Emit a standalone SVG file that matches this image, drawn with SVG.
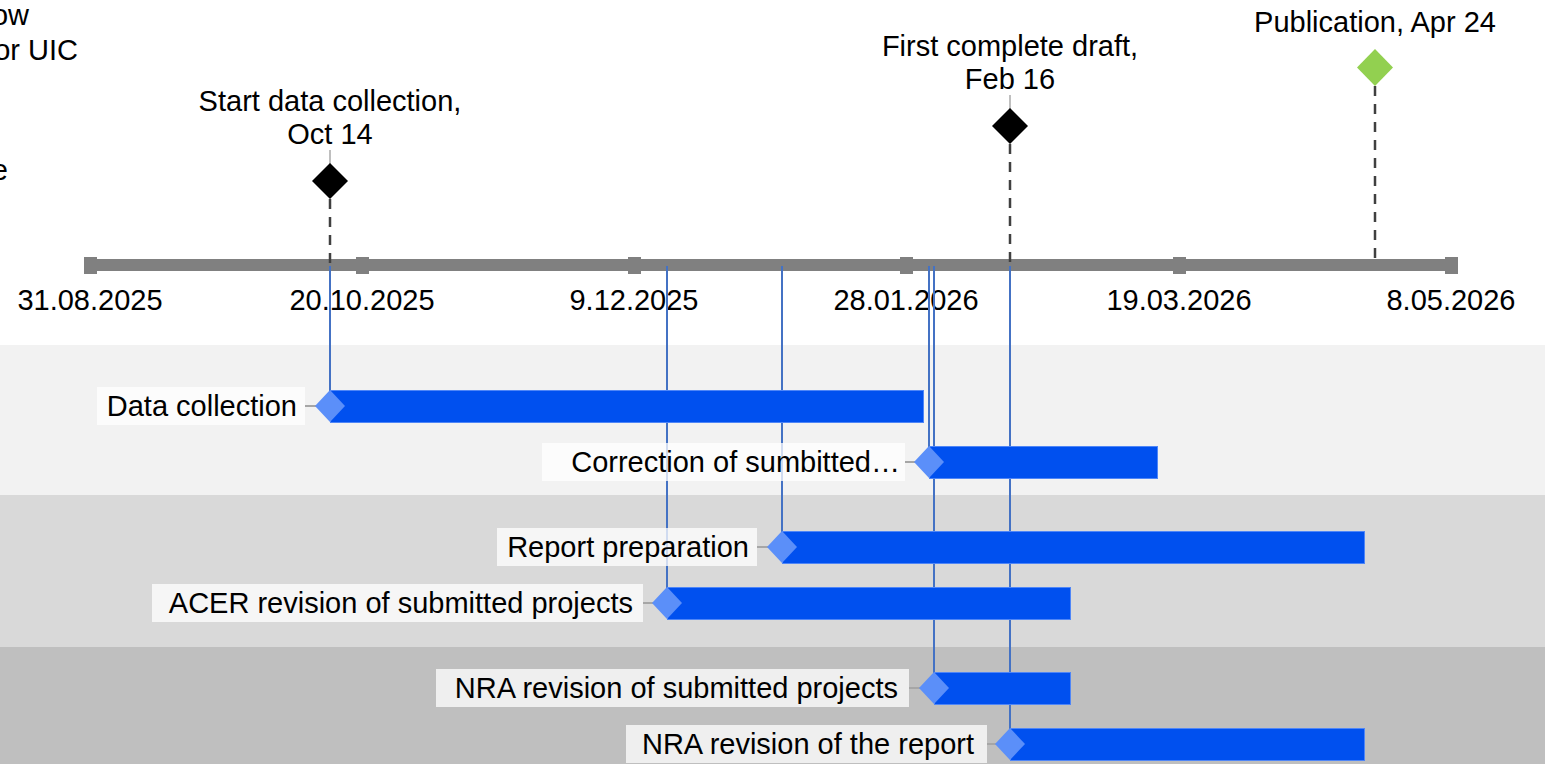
<svg xmlns="http://www.w3.org/2000/svg" width="1545" height="764" viewBox="0 0 1545 764">
<style>
text{font-family:"Liberation Sans",Arial,sans-serif;font-size:29px;fill:#000}
.ax{text-anchor:middle}
.lb{text-anchor:end}
.box{fill:#ffffff;fill-opacity:0.75}
.bar{fill:#0050ef;stroke:#4f86f7;stroke-width:1}
.dia{fill:#5b8ff9}
.con{stroke:#a6a6a6;stroke-width:2}
.vl{stroke:#4472c4;stroke-width:2;fill:none}
.dash{stroke:#404040;stroke-width:2.5;stroke-dasharray:10 8;fill:none}
.tick{fill:#808080}
</style>
<rect width="1545" height="764" fill="#ffffff"/>
<g id="bands">
<rect x="0" y="345" width="1545" height="150" fill="#f2f2f2"/>
<rect x="0" y="495" width="1545" height="152" fill="#d9d9d9"/>
<rect x="0" y="647" width="1545" height="117" fill="#bfbfbf"/>
</g>
<g id="legend-clipped">
<text x="29" y="25" class="lb">ow</text>
<text x="78" y="60" class="lb">or UIC</text>
<text x="8" y="180" class="lb">e</text>
</g>
<g id="axis">
<rect x="85" y="259" width="1373" height="12" fill="#808080"/>
<rect x="84" y="257" width="13" height="17" class="tick"/>
<rect x="356" y="257" width="13" height="17" class="tick"/>
<rect x="628" y="257" width="13" height="17" class="tick"/>
<rect x="900" y="257" width="13" height="17" class="tick"/>
<rect x="1173" y="257" width="13" height="17" class="tick"/>
<rect x="1445" y="257" width="13" height="17" class="tick"/>
<text x="90" y="310" class="ax">31.08.2025</text>
<text x="362" y="310" class="ax">20.10.2025</text>
<text x="634" y="310" class="ax">9.12.2025</text>
<text x="906" y="310" class="ax">28.01.2026</text>
<text x="1179" y="310" class="ax">19.03.2026</text>
<text x="1451" y="310" class="ax">8.05.2026</text>
</g>
<g id="connectors">
<line x1="330" y1="199" x2="330" y2="265" class="dash"/>
<line x1="1010" y1="144" x2="1010" y2="265" class="dash"/>
<line x1="1375" y1="86" x2="1375" y2="265" class="dash"/>
<line x1="330" y1="150" x2="330" y2="164" stroke="#bfbfbf" stroke-width="2"/>
<line x1="1010" y1="95" x2="1010" y2="109" stroke="#bfbfbf" stroke-width="2"/>
<line x1="330" y1="266" x2="330" y2="391" class="vl"/>
<line x1="667" y1="266" x2="667" y2="588" class="vl"/>
<line x1="782" y1="266" x2="782" y2="532" class="vl"/>
<line x1="929" y1="266" x2="929" y2="447" class="vl"/>
<line x1="934" y1="266" x2="934" y2="673" class="vl"/>
<line x1="1010" y1="266" x2="1010" y2="729" class="vl"/>
</g>
<g id="m-start">
<polygon points="330,163 348,181 330,199 312,181" fill="#000"/>
<text x="330" y="111" class="ax">Start data collection,</text>
<text x="330" y="144" class="ax">Oct 14</text>
</g>
<g id="m-draft">
<polygon points="1010,108 1028,126 1010,144 992,126" fill="#000"/>
<text x="1010" y="56" class="ax">First complete draft,</text>
<text x="1010" y="89" class="ax">Feb 16</text>
</g>
<g id="m-pub">
<polygon points="1375,49 1393,67.5 1375,86 1357,67.5" fill="#92d050"/>
<text x="1375" y="32" class="ax">Publication, Apr 24</text>
</g>
<g id="t-data">
<rect x="97" y="387" width="208" height="38" class="box"/>
<line x1="305" y1="406" x2="330" y2="406" class="con"/>
<rect x="330.5" y="390.5" width="593" height="32" class="bar"/>
<polygon points="330,390 345,406 330,422 315,406" class="dia"/>
<text x="297" y="416" class="lb">Data collection</text>
</g>
<g id="t-correction">
<rect x="542" y="443" width="363" height="38" class="box"/>
<line x1="905" y1="462" x2="929" y2="462" class="con"/>
<rect x="929.5" y="446.5" width="228" height="32" class="bar"/>
<polygon points="929,446 944,462 929,478 914,462" class="dia"/>
<text x="900" y="472" class="lb">Correction of sumbitted…</text>
</g>
<g id="t-report">
<rect x="497" y="528" width="260" height="38" class="box"/>
<line x1="757" y1="547" x2="782" y2="547" class="con"/>
<rect x="782.5" y="531.5" width="582" height="32" class="bar"/>
<polygon points="782,531 797,547 782,563 767,547" class="dia"/>
<text x="749" y="557" class="lb">Report preparation</text>
</g>
<g id="t-acer">
<rect x="152" y="584" width="491" height="38" class="box"/>
<line x1="643" y1="603" x2="667" y2="603" class="con"/>
<rect x="667.5" y="587.5" width="403" height="32" class="bar"/>
<polygon points="667,587 682,603 667,619 652,603" class="dia"/>
<text x="633" y="613" class="lb">ACER revision of submitted projects</text>
</g>
<g id="t-nra-projects">
<rect x="436" y="669" width="473" height="38" class="box"/>
<line x1="909" y1="688" x2="934" y2="688" class="con"/>
<rect x="934.5" y="672.5" width="136" height="32" class="bar"/>
<polygon points="934,672 949,688 934,704 919,688" class="dia"/>
<text x="898" y="698" class="lb">NRA revision of submitted projects</text>
</g>
<g id="t-nra-report">
<rect x="626" y="725" width="361" height="38" class="box"/>
<line x1="987" y1="744" x2="1010" y2="744" class="con"/>
<rect x="1010.5" y="728.5" width="354" height="32" class="bar"/>
<polygon points="1010,728 1025,744 1010,760 995,744" class="dia"/>
<text x="974" y="754" class="lb">NRA revision of the report</text>
</g>
</svg>
